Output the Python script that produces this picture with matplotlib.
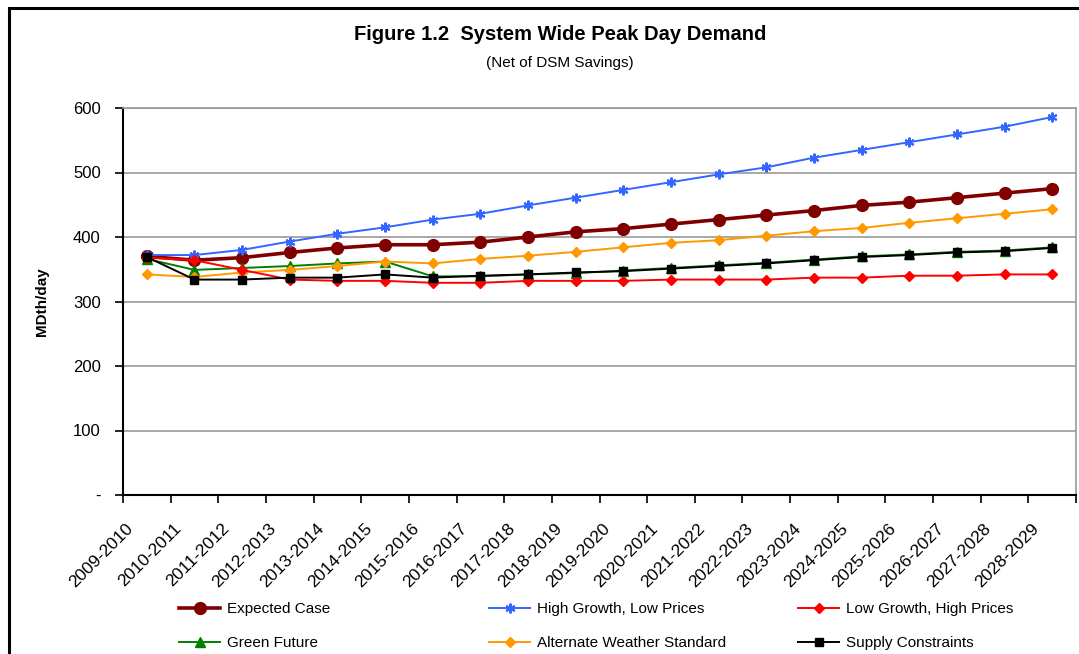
import matplotlib
matplotlib.use("Agg")
from matplotlib import pyplot as plt
from matplotlib.patches import Rectangle
from matplotlib.transforms import ScaledTranslation

plt.rcParams['font.family'] = ['Liberation Sans', 'DejaVu Sans']

# data
seasons = ['2009-2010', '2010-2011', '2011-2012', '2012-2013', '2013-2014',
           '2014-2015', '2015-2016', '2016-2017', '2017-2018', '2018-2019',
           '2019-2020', '2020-2021', '2021-2022', '2022-2023', '2023-2024',
           '2024-2025', '2025-2026', '2026-2027', '2027-2028', '2028-2029']
expected = [370, 364, 368, 376, 383, 388, 388, 392, 400, 408,
            413, 420, 427, 434, 441, 449, 454, 461, 468, 475]
high_growth = [372, 372, 380, 393, 405, 415, 427, 436, 449, 461,
               473, 485, 497, 508, 523, 535, 547, 559, 571, 586]
low_growth = [368, 364, 349, 334, 332, 332, 329, 329, 332, 332,
              332, 334, 334, 334, 337, 337, 340, 340, 342, 342]
green_future = [366, 349, 352, 355, 359, 362, 339, 339, 342, 344,
                348, 352, 356, 360, 365, 370, 373, 377, 379, 384]
alt_weather = [342, 338, 345, 349, 355, 362, 359, 366, 371, 377,
               384, 391, 395, 402, 409, 414, 422, 429, 436, 443]
supply = [369, 334, 334, 337, 337, 342, 337, 340, 342, 345,
          347, 351, 355, 359, 364, 369, 372, 376, 378, 383]

fig = plt.figure(figsize=(10.79, 6.54), dpi=100)
ax = fig.add_axes([123/1079, 1 - 495/654, (1076-123)/1079, (495-108)/654])

x = range(len(seasons))
l1, = ax.plot(x, expected, color='#800000', lw=2.6, marker='o', ms=8.5, label='Expected Case', zorder=3)
l2, = ax.plot(x, high_growth, color='#3366FF', lw=1.4, marker=(6, 2, 0), ms=7, mew=1.5, label='High Growth, Low Prices', zorder=4)
l4, = ax.plot(x, green_future, color='#008000', lw=1.4, marker='^', ms=6.5, label='Green Future', zorder=5)
l5, = ax.plot(x, alt_weather, color='#FF9900', lw=1.4, marker='D', ms=5.5, label='Alternate Weather Standard', zorder=6)
l3, = ax.plot(x, low_growth, color='#FF0000', lw=1.4, marker='D', ms=5.5, label='Low Growth, High Prices', zorder=7)
l6, = ax.plot(x, supply, color='black', lw=1.4, marker='s', ms=6, label='Supply Constraints', zorder=8)

ax.set_xlim(-0.5, len(seasons) - 0.5)
ax.set_ylim(0, 600)
ax.set_yticks([0, 100, 200, 300, 400, 500, 600])
ax.set_yticklabels(['-', '100', '200', '300', '400', '500', '600'], fontsize=12)
ax.grid(axis='y', color='#999999', lw=1.2)
ax.set_axisbelow(True)

ax.set_xticks([i - 0.5 for i in range(len(seasons) + 1)])
ax.set_xticklabels([])
ax.set_xticks(list(x), minor=True)
ax.set_xticklabels(seasons, minor=True, rotation=45, ha='right', rotation_mode='anchor', fontsize=12.5)
ax.tick_params(axis='x', which='minor', length=0, pad=12)
ax.tick_params(axis='x', which='major', length=6, width=1.2, direction='out')
ax.tick_params(axis='y', length=6, width=1.2, direction='out', pad=10)
shift = ScaledTranslation(-0.21, -0.09, fig.dpi_scale_trans)
for lab in ax.get_xticklabels(minor=True):
    lab.set_transform(lab.get_transform() + shift)

ax.spines['left'].set_linewidth(1.5)
ax.spines['bottom'].set_linewidth(1.5)
ax.spines['top'].set_color('#999999')
ax.spines['right'].set_color('#999999')
ax.spines['top'].set_linewidth(1.2)
ax.spines['right'].set_linewidth(1.2)

ax.set_ylabel('MDth/day', fontsize=11, fontweight='bold', labelpad=17)

fig.text(560/1079, 1 - 35/654, 'Figure 1.2  System Wide Peak Day Demand', ha='center', va='center',
         fontsize=14.5, fontweight='bold')
fig.text(560/1079, 1 - 63/654, '(Net of DSM Savings)', ha='center', va='center', fontsize=11)

# outer frame
fig.patches.append(Rectangle((9/1079, -0.1), 1.2, 1 - 8/654 + 0.1, transform=fig.transFigure,
                             fill=False, edgecolor='black', lw=2.2))

# legend, three columns of two rows
cols = [([l1, l4], 173), ([l2, l5], 483), ([l3, l6], 792)]
for handles, xpos in cols:
    fig.legend(handles=handles, labels=[h.get_label() for h in handles], loc='upper left',
               bbox_to_anchor=(xpos/1079, 1 - 596/654), frameon=False, fontsize=11,
               handlelength=2.7, handletextpad=0.45, labelspacing=1.3, borderaxespad=0)

fig.savefig('out.png', dpi=100)
